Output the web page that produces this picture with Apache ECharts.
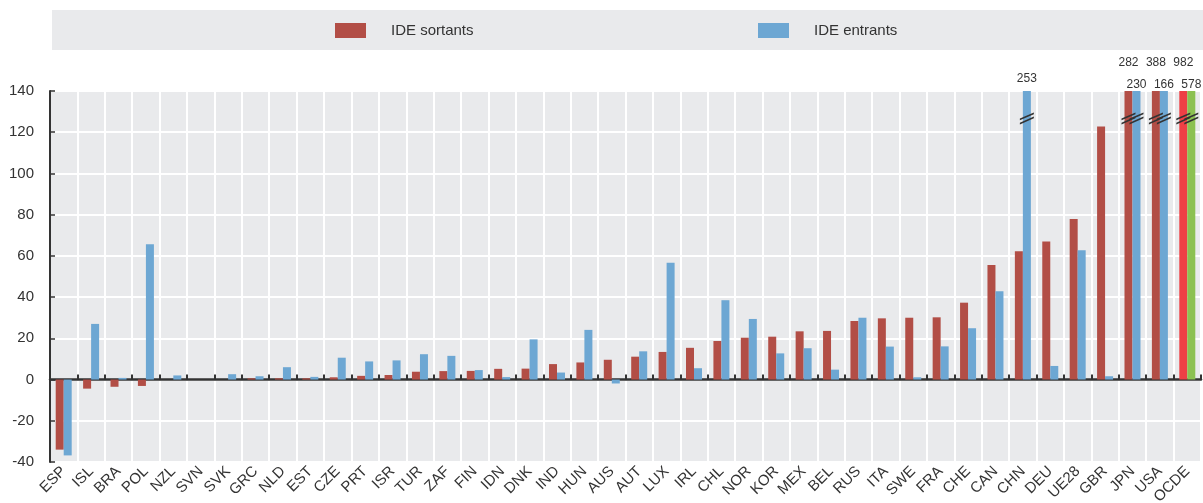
<!DOCTYPE html>
<html>
<head>
<meta charset="utf-8">
<script src="https://cdn.jsdelivr.net/npm/echarts@6/dist/echarts.min.js"></script>
<style>
html,body{margin:0;padding:0;background:#fff;}
#chart{width:1203px;height:503px;}
</style>
</head>
<body>
<div id="chart"></div>
<script>
const categories = ['ESP','ISL','BRA','POL','NZL','SVN','SVK','GRC','NLD','EST','CZE','PRT','ISR','TUR','ZAF','FIN','IDN','DNK','IND','HUN','AUS','AUT','LUX','IRL','CHL','NOR','KOR','MEX','BEL','RUS','ITA','SWE','FRA','CHE','CAN','CHN','DEU','UE28','GBR','JPN','USA','OCDE'];
const sortants = [-34, -4.4, -3.5, -3.1, 0, 0, 0, 0.6, 0.6, 0.6, 1.1, 1.8, 2.2, 3.8, 4.1, 4.2, 5.2, 5.3, 7.5, 8.3, 9.6, 11.1, 13.4, 15.4, 18.7, 20.3, 20.8, 23.4, 23.6, 28.4, 29.7, 30.0, 30.2, 37.3, 55.6, 62.3, 67.0, 77.9, 122.8, 282, 388, 982];
const entrants = [-36.8, 27, 0.8, 65.7, 2, 0, 2.6, 1.6, 6, 1.3, 10.6, 8.8, 9.3, 12.3, 11.5, 4.6, 1.2, 19.5, 3.4, 24.1, -1.9, 13.7, 56.7, 5.5, 38.5, 29.4, 12.7, 15.2, 4.8, 30.0, 16.0, 1.1, 16.1, 24.9, 42.9, 253, 6.6, 62.7, 1.6, 230, 166, 578];
const yTicks = [-40, -20, 0, 20, 40, 60, 80, 100, 120, 140];
const CAP = 140;
const BREAK_AT = 126.7;

const FONT = "'Liberation Sans',Arial,sans-serif";
const C_OUT = '#B24E46', C_IN = '#6DA7D3', C_OUT_OECD = '#EE3F45', C_IN_OECD = '#8CC152';

function buildData(values, other, isOut, oecdColor) {
  return values.map((v, i) => {
    const capped = v > CAP;
    const pairCapped = other[i] > CAP;
    const item = { value: Math.min(v, CAP), real: v };
    if (categories[i] === 'OCDE') item.itemStyle = { color: oecdColor };
    if (capped) {
      let dist = 6;
      if (pairCapped) dist = isOut ? 22 : 0;
      item.label = { show: true, position: 'top', distance: dist,
        formatter: () => String(v), fontSize: 12, color: '#333', fontFamily: FONT };
    }
    return item;
  });
}
function breaks(values) {
  const out = [];
  values.forEach((v, i) => { if (v > CAP) out.push({ coord: [i, BREAK_AT] }); });
  return out;
}
const breakSymbol = 'path://M0,6 L13,0 L13,1.7 L0,7.7 Z M0,10 L13,4 L13,5.7 L0,11.7 Z';

const chart = echarts.init(document.getElementById('chart'), null, { renderer: 'canvas' });
chart.setOption({
  animation: false,
  textStyle: { fontFamily: FONT },
  graphic: [{ type: 'rect', shape: { x: 52, y: 10, width: 1151, height: 40 }, style: { fill: '#E9EAEC' }, z: -10 }],
  legend: [
    { data: ['IDE sortants'], left: 330, top: 18, itemWidth: 31, itemHeight: 15, icon: 'rect',
      textStyle: { fontSize: 15, color: '#333', fontFamily: FONT, padding: [0, 0, 0, 20] } },
    { data: ['IDE entrants'], left: 753, top: 18, itemWidth: 31, itemHeight: 15, icon: 'rect',
      textStyle: { fontSize: 15, color: '#333', fontFamily: FONT, padding: [0, 0, 0, 20] } }
  ],
  grid: { left: 50, right: 2, top: 91, bottom: 41, show: true, backgroundColor: '#E9EAEC', borderWidth: 0,
    containLabel: false, outerBoundsMode: 'none' },
  xAxis: [
    { type: 'category', data: categories, position: 'bottom',
      axisLine: { show: false, onZero: false }, axisTick: { show: false },
      axisLabel: { interval: 0, rotate: 45, margin: 7, fontSize: 15, color: '#333', fontFamily: FONT },
      splitLine: { show: true, interval: 0, lineStyle: { color: '#ffffff', width: 2 } } },
    { type: 'category', data: categories, position: 'bottom',
      axisLine: { show: true, onZero: true, lineStyle: { color: '#333', width: 2.5 } },
      axisTick: { show: true, inside: true, length: 5, interval: 0, lineStyle: { color: '#333', width: 2 } },
      axisLabel: { show: false }, splitLine: { show: false } }
  ],
  yAxis: {
    type: 'value', min: yTicks[0], max: yTicks[yTicks.length - 1], interval: 20,
    axisLine: { show: true, lineStyle: { color: '#333', width: 2 } },
    axisTick: { show: true, inside: true, length: 5, lineStyle: { color: '#333', width: 1.5 } },
    axisLabel: { fontSize: 15, color: '#333', margin: 16, fontFamily: FONT },
    splitLine: { show: true, lineStyle: { color: '#ffffff', width: 2 } }
  },
  series: [
    { name: 'IDE sortants', type: 'bar', xAxisIndex: 0, barWidth: 8, barGap: '0%',
      itemStyle: { color: C_OUT }, data: buildData(sortants, entrants, true, C_OUT_OECD),
      markPoint: { symbol: breakSymbol, symbolSize: [14, 12], silent: true,
        itemStyle: { color: '#333' }, label: { show: false }, data: breaks(sortants) } },
    { name: 'IDE entrants', type: 'bar', xAxisIndex: 0, barWidth: 8, barGap: '0%',
      itemStyle: { color: C_IN }, data: buildData(entrants, sortants, false, C_IN_OECD),
      markPoint: { symbol: breakSymbol, symbolSize: [14, 12], silent: true,
        itemStyle: { color: '#333' }, label: { show: false }, data: breaks(entrants) } }
  ]
});
</script>
</body>
</html>
